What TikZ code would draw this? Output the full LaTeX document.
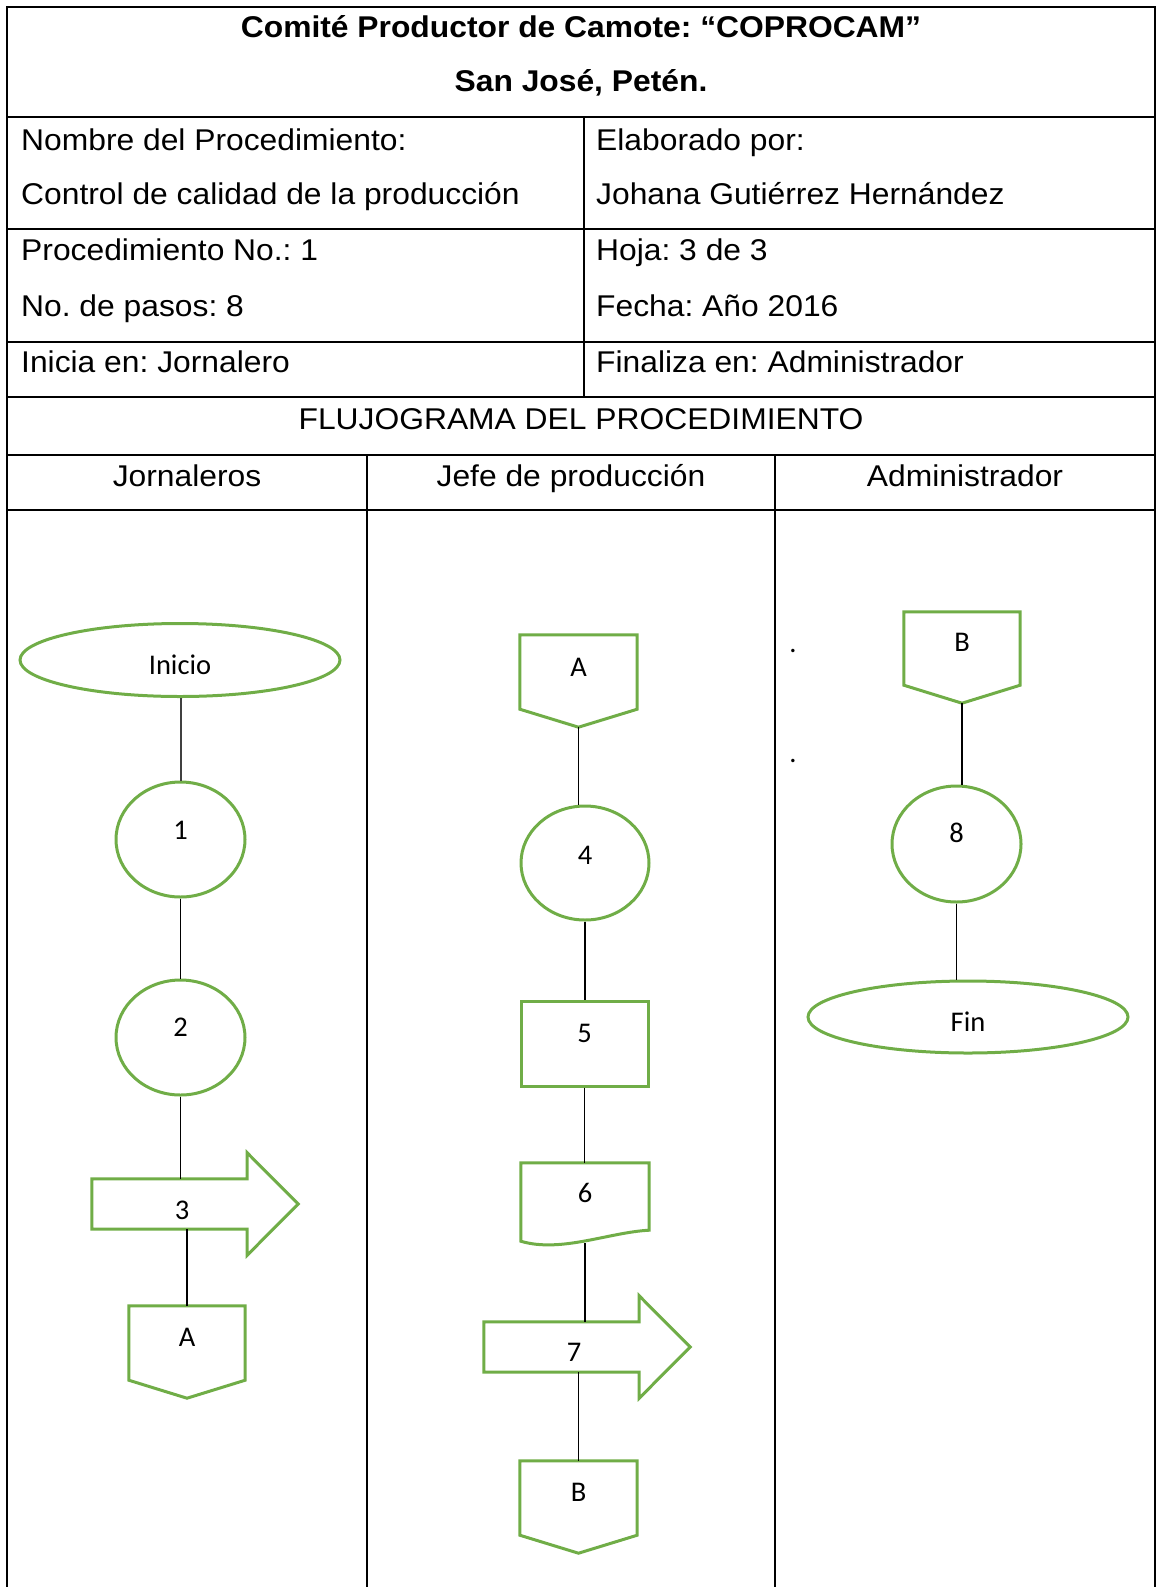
\documentclass[tikz,border=0pt]{standalone}
\usepackage{fontspec}
\usetikzlibrary{shapes.geometric,positioning}
\newfontfamily\hdrfont[FakeStretch=1.06]{Liberation Sans}
\newfontfamily\shpfont{Carlito}
\definecolor{stepgreen}{HTML}{70AD47}
\frenchspacing

\begin{document}
\begin{tikzpicture}[x=1pt,y=-1pt,
  hdr/.style={font=\hdrfont\fontsize{30}{36}\selectfont, inner sep=0pt},
  hdrbold/.style={font=\hdrfont\fontsize{30}{36}\selectfont\bfseries, inner sep=0pt},
  lbl/.style={font=\shpfont\fontsize{28.5}{34}\selectfont, inner sep=0pt},
  grid/.style={line width=2pt},
  link/.style={line width=1.3pt},
  stepline/.style={draw=stepgreen, line width=3pt},
  oval/.style={ellipse, stepline, inner sep=0pt, minimum width=320pt, minimum height=73pt},
  circ/.style={ellipse, stepline, inner sep=0pt, minimum width=129pt, minimum height=115pt},
  procbox/.style={rectangle, stepline, inner sep=0pt, minimum width=127pt, minimum height=85pt},
  offpage/.style={rectangle, inner sep=0pt, minimum width=117pt, minimum height=92pt,
    append after command={\pgfextra{\draw[stepline] (\tikzlastnode.north west) -- (\tikzlastnode.north east)
      -- ([yshift=18pt]\tikzlastnode.south east) -- (\tikzlastnode.south) -- ([yshift=18pt]\tikzlastnode.south west) -- cycle;}}},
  arrowbox/.style={rectangle, inner sep=0pt, minimum width=155pt, minimum height=50pt,
    append after command={\pgfextra{\draw[stepline] (\tikzlastnode.south east) -- (\tikzlastnode.south west)
      -- (\tikzlastnode.north west) -- (\tikzlastnode.north east) -- ++(0pt,26pt) -- ([xshift=51pt]\tikzlastnode.east)
      -- ([yshift=-26pt]\tikzlastnode.south east) -- cycle;}}},
  docbox/.style={rectangle, inner sep=0pt, minimum width=128pt, minimum height=67pt,
    append after command={\pgfextra{\draw[stepline] (\tikzlastnode.south east) -- (\tikzlastnode.north east)
      -- (\tikzlastnode.north west) -- ([yshift=-11pt]\tikzlastnode.south west)
      .. controls +(40pt,-12pt) and +(-40pt,-2pt) .. (\tikzlastnode.south east) -- cycle;}}}
]
\useasboundingbox (0,0) rectangle (1157,1587);

% table
\draw[grid] (7,1587) -- (7,7) -- (1155,7) -- (1155,1587);
\foreach \y in {117,229,342,397,455,510} \draw[grid] (7,\y) -- (1155,\y);
\draw[grid] (584,117) -- (584,397);
\draw[grid] (367,455) -- (367,1587);
\draw[grid] (775,455) -- (775,1587);

\node[hdrbold, anchor=base] (title1) at (581,38) {Comité Productor de Camote: “COPROCAM”};
\node[hdrbold, anchor=base] (title2) at (581,92) {San José, Petén.};
\node[hdr, anchor=base west] (nombre) at (21,150) {Nombre del Procedimiento:};
\node[hdr, anchor=base west] (proced) at (21,204) {Control de calidad de la producción};
\node[hdr, anchor=base west] (pnum) at (21,260) {Procedimiento No.: 1};
\node[hdr, anchor=base west] (pasos) at (21,316) {No. de pasos: 8};
\node[hdr, anchor=base west] (inicia) at (21,372) {Inicia en: Jornalero};
\node[hdr, anchor=base west] (elab) at (596,150) {Elaborado por:};
\node[hdr, anchor=base west] (autor) at (596,204) {Johana Gutiérrez Hernández};
\node[hdr, anchor=base west] (hoja) at (596,260) {Hoja: 3 de 3};
\node[hdr, anchor=base west] (fecha) at (596,316) {Fecha: Año 2016};
\node[hdr, anchor=base west] (finaliza) at (596,372) {Finaliza en: Administrador};
\node[hdr, anchor=base] (flujo) at (581,429) {FLUJOGRAMA DEL PROCEDIMIENTO};
\node[hdr, anchor=base] (lane1) at (187,486) {Jornaleros};
\node[hdr, anchor=base] (lane2) at (571,486) {Jefe de producción};
\node[hdr, anchor=base] (lane3) at (965,486) {Administrador};

% Jornaleros
\node[oval, label={[lbl,yshift=-5pt]center:Inicio}] (inicio) at (180,660) {};
\node[circ, label={[lbl,yshift=9.5pt]center:1}] (p1) at (180.5,839.5) {};
\node[circ, label={[lbl,yshift=10.5pt]center:2}] (p2) at (180.5,1037.5) {};
\node[arrowbox, label={[lbl,xshift=12.5pt,yshift=-6pt]center:3}] (p3) at (169.5,1204) {};
\node[offpage, minimum width=116pt, label={[lbl,yshift=15pt]center:A}] (conA) at (187,1352) {};

% Jefe de produccion
\node[offpage, label={[lbl,yshift=14pt]center:A}] (conA2) at (578.5,681) {};
\node[circ, minimum width=128pt, minimum height=114pt, label={[lbl,yshift=8pt]center:4}] (p4) at (585,863) {};
\node[procbox, label={[lbl,yshift=10.5pt]center:5}] (p5) at (584.5,1043.5) {};
\node[docbox, label={[lbl,yshift=4pt]center:6}] (p6) at (585,1196.5) {};
\node[arrowbox, label={[lbl,xshift=12.5pt,yshift=-5pt]center:7}] (p7) at (561.5,1347) {};
\node[offpage, label={[lbl,yshift=15pt]center:B}] (conB) at (578.5,1507) {};

% Administrador
\node[lbl] (dot1) at (793,651) {.};
\node[lbl] (dot2) at (793,761) {.};
\node[offpage, minimum width=116pt, minimum height=91pt, label={[lbl,yshift=15.5pt]center:B}] (conB2) at (962,657.5) {};
\node[circ, minimum height=116pt, label={[lbl,yshift=11pt]center:8}] (p8) at (956.5,844) {};
\node[oval, minimum height=72pt, label={[lbl,yshift=-5pt]center:Fin}] (fin) at (968,1017) {};

% connectors
\draw[link, black!75, line width=2pt] (p1.north |- inicio.south) -- (p1.north);
\draw[link] (p1.south) -- (p2.north);
\draw[link] (p2.south) -- (p2.south |- p3.north);
\draw[link] (conA.north |- p3.south) -- (conA.north);
\draw[link] (conA2.south) -- (conA2.south |- p4.north);
\draw[link] (p4.south) -- (p4.south |- p5.north);
\draw[link] (p5.south) -- (p5.south |- p6.north);
\draw[link] ([yshift=-13pt]p6.south) -- (p6.south |- p7.north);
\draw[link] (conB.north |- p7.south) -- (conB.north);
\draw[link] (conB2.south) -- (conB2.south |- p8.north);
\draw[link] (p8.south) -- (p8.south |- fin.north);
\end{tikzpicture}
\end{document}
